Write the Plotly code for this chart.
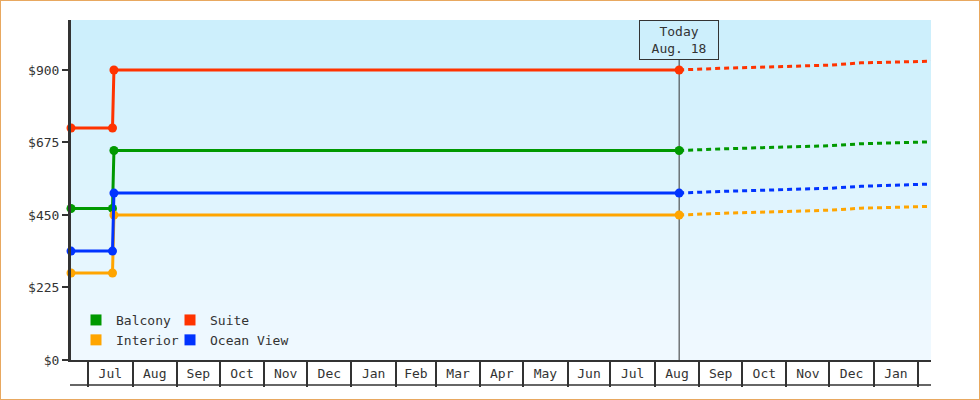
"""
Cabin price history + forecast - Plotly
"""

import pandas as pd
import plotly.graph_objects as go

# price history (step change in July), then forecast after today
hist_dates = ['2014-06-19', '2014-07-18', '2014-07-19', '2015-08-18']
fcst_dates = ['2015-08-18', '2015-09-16', '2015-12-02', '2015-12-23', '2016-02-10']

balcony_hist = [470, 470, 650, 650]
suite_hist = [720, 720, 900, 900]
interior_hist = [270, 270, 450, 450]
ocean_hist = [338, 338, 518, 518]

balcony_fcst = [650, 655, 665, 671, 677]
suite_fcst = [900, 905, 915, 922, 927]
interior_fcst = [450, 455, 465, 471, 477]
ocean_fcst = [518, 523, 533, 539, 546]

today = '2015-08-18'
today_label = 'Today<br>Aug. 18'

month_labels = ['Jul', 'Aug', 'Sep', 'Oct', 'Nov', 'Dec', 'Jan', 'Feb', 'Mar',
                'Apr', 'May', 'Jun', 'Jul', 'Aug', 'Sep', 'Oct', 'Nov', 'Dec', 'Jan']
y_ticks = [0, 225, 450, 675, 900]
y_tick_text = ['$0', '$225', '$450', '$675', '$900']

x_range = ['2014-06-19', '2016-02-10']
y_range = [0, 1055]

COLORS = {
    'Balcony': '#009900',
    'Suite': '#ff3300',
    'Interior': '#ffa500',
    'Ocean View': '#0033ff',
}
# legend columns: left column / right column
LEGEND_OF = {'Balcony': 'legend', 'Interior': 'legend',
             'Suite': 'legend2', 'Ocean View': 'legend2'}
AXIS = '#333333'
FONT = 'DejaVu Sans Mono'

series = [
    ('Balcony', balcony_hist, balcony_fcst),
    ('Suite', suite_hist, suite_fcst),
    ('Interior', interior_hist, interior_fcst),
    ('Ocean View', ocean_hist, ocean_fcst),
]

# 月份边界和标签位置
month_starts = pd.date_range('2014-07-01', periods=len(month_labels) + 1, freq='MS')
label_pos = [s + (e - s) / 2 for s, e in zip(month_starts[:-1], month_starts[1:])]

fig = go.Figure()

for name, hist, fcst in series:
    color = COLORS[name]
    fig.add_trace(go.Scatter(
        x=fcst_dates, y=fcst, mode='lines',
        line=dict(color=color, width=3, dash='5px,4px'),
        showlegend=False, hoverinfo='skip',
    ))
    fig.add_trace(go.Scatter(
        x=hist_dates, y=hist, mode='lines+markers',
        line=dict(color=color, width=3),
        marker=dict(color=color, size=9),
        cliponaxis=False, showlegend=False, name=name,
    ))

# legend entries: square swatches
for name in ['Balcony', 'Interior', 'Suite', 'Ocean View']:
    fig.add_trace(go.Scatter(
        x=[None], y=[None], mode='markers', name=name,
        marker=dict(color=COLORS[name], symbol='square', size=11),
        legend=LEGEND_OF[name],
    ))

# gradient plot background
n_bands = 34
top = (204, 239, 252)
bottom = (240, 249, 255)
shapes = []
for i in range(n_bands):
    t = i / (n_bands - 1)
    c = tuple(int(round(top[k] + (bottom[k] - top[k]) * t)) for k in range(3))
    shapes.append(dict(
        type='rect', xref='paper', yref='paper',
        x0=0, x1=1, y0=1 - (i + 1) / n_bands, y1=1 - i / n_bands,
        fillcolor=f'rgb{c}', line=dict(width=0), layer='below',
    ))

W, H = 980, 400
ml, mr, mt, mb = 71, 49, 20, 40
pw, ph = W - ml - mr, H - mt - mb

# today marker line
shapes.append(dict(
    type='line', xref='x', yref='paper', x0=today, x1=today,
    y0=0, y1=1 - 40 / ph, line=dict(color=AXIS, width=1), layer='below',
))
# bottom edge of the month boxes
shapes.append(dict(
    type='line', xref='paper', yref='paper', x0=-1 / pw, x1=1,
    y0=-25 / ph, y1=-25 / ph, line=dict(color=AXIS, width=1.5),
))
# outer border
shapes.append(dict(
    type='rect', xref='paper', yref='paper',
    x0=-ml / pw, x1=1 + mr / pw, y0=-mb / ph, y1=1 + mt / ph,
    line=dict(color='#e8a860', width=2),
))

legend_style = dict(
    orientation='v', y=(360 - 330) / ph, yanchor='middle', xanchor='left',
    itemwidth=30, tracegroupgap=0, bgcolor='rgba(0,0,0,0)',
    font=dict(family=FONT, size=13, color=AXIS),
)

fig.update_layout(
    width=W, height=H,
    margin=dict(l=ml, r=mr, t=mt, b=mb),
    paper_bgcolor='white',
    plot_bgcolor='#e6f6fd',
    font=dict(family=FONT, size=13, color=AXIS),
    shapes=shapes,
    showlegend=True,
    legend=dict(x=5 / pw, **legend_style),
    legend2=dict(x=99 / pw, **legend_style),
    annotations=[dict(
        x=today, y=1, xref='x', yref='paper', yanchor='top',
        text=today_label, showarrow=False, align='center',
        width=76, height=36, borderpad=1,
        bordercolor=AXIS, borderwidth=1, bgcolor='rgba(0,0,0,0)',
        font=dict(family=FONT, size=13, color=AXIS),
    )],
)

fig.update_xaxes(
    type='date', range=x_range,
    showgrid=False, zeroline=False,
    showline=True, linecolor=AXIS, linewidth=1.5,
    tickmode='array', tickvals=label_pos, ticktext=month_labels,
    ticks='', ticklabelstandoff=1,
    minor=dict(
        tickmode='array', tickvals=list(month_starts),
        ticks='outside', ticklen=25, tickwidth=1.5, tickcolor=AXIS,
        showgrid=False,
    ),
)
fig.update_yaxes(
    range=y_range, showgrid=False, zeroline=False,
    showline=True, linecolor=AXIS, linewidth=3,
    tickmode='array', tickvals=y_ticks, ticktext=y_tick_text,
    ticks='outside', ticklen=6, tickwidth=2, tickcolor=AXIS,
)

# page has a default 8px body margin; drop it so the chart sits at 0,0
fig.write_html('out.html', config={'displayModeBar': False},
               post_script="document.body.style.margin='0';")
